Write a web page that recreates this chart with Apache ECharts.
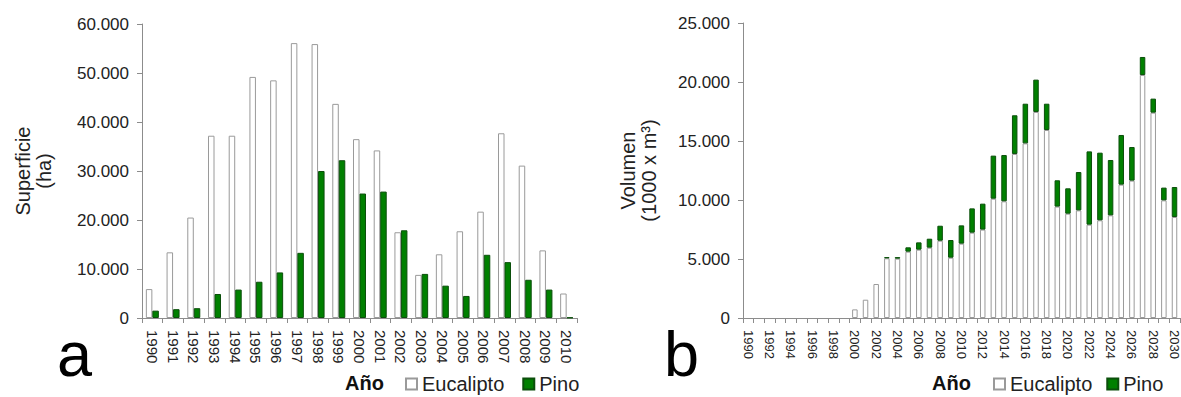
<!DOCTYPE html>
<html>
<head>
<meta charset="utf-8">
<script src="https://cdn.jsdelivr.net/npm/echarts@6/dist/echarts.min.js"></script>
<style>
  html, body { margin: 0; padding: 0; background: #fff; }
  #chart { width: 1181px; height: 397px; }
</style>
</head>
<body>
<div id="chart"></div>
<script>
// panel a: superficie plantada (ha)
var yearsA = ['1990', '1991', '1992', '1993', '1994', '1995', '1996', '1997', '1998', '1999', '2000',
  '2001', '2002', '2003', '2004', '2005', '2006', '2007', '2008', '2009', '2010'];
var eucaA = [5900, 13400, 20500, 37200, 37200, 49200, 48500, 56100, 55900, 43700, 36500,
  34200, 17500, 8800, 13000, 17700, 21700, 37700, 31100, 13800, 5000];
var pinoA = [1500, 1800, 2000, 4900, 5800, 7400, 9300, 13300, 30000, 32200, 25400,
  25800, 17900, 9000, 6600, 4500, 12900, 11400, 7800, 5800, 100];

// panel b: volumen (1000 x m3)
var yearsB = ['1990', '1991', '1992', '1993', '1994', '1995', '1996', '1997', '1998', '1999', '2000',
  '2001', '2002', '2003', '2004', '2005', '2006', '2007', '2008', '2009', '2010',
  '2011', '2012', '2013', '2014', '2015', '2016', '2017', '2018', '2019', '2020',
  '2021', '2022', '2023', '2024', '2025', '2026', '2027', '2028', '2029', '2030'];
var eucaB = [0, 0, 0, 0, 0, 0, 0, 0, 0, 0, 730,
  1550, 2880, 5060, 5030, 5620, 5790, 5960, 6550, 5110, 6300,
  7230, 7490, 10110, 9890, 13900, 14800, 17460, 15930, 9440, 8840,
  9120, 7910, 8280, 8700, 11300, 11640, 20590, 17400, 9970, 8560];
var pinoB = [0, 0, 0, 0, 0, 0, 0, 0, 0, 0, 0,
  0, 0, 100, 130, 370, 620, 760, 1270, 1500, 1550,
  2060, 2200, 3650, 3920, 3280, 3360, 2740, 2230, 2230, 2150,
  3250, 6210, 5730, 4690, 4210, 2850, 1530, 1190, 1080, 2540];

var FONT = "'Liberation Sans', Arial, sans-serif";
var TXT = '#222';
var AXIS = '#8c8c8c';
var GREEN = '#008000';

function miles(v) {
  return String(v).replace(/\B(?=(\d{3})+(?!\d))/g, '.');
}
// empty years get no bar at all (no outline on the baseline)
function noZero(arr) {
  return arr.map(function (v) { return v === 0 ? '-' : v; });
}

var eucaStyle = { color: '#fff', borderColor: '#9a9a9a', borderWidth: 1 };
var pinoStyle = { color: GREEN, borderColor: '#0b4f0b', borderWidth: 1 };

function xAx(idx, data, fontSize, labelInterval) {
  return {
    type: 'category', gridIndex: idx, data: data,
    axisLine: { lineStyle: { color: AXIS } },
    axisTick: { show: true, interval: 0, length: 5, lineStyle: { color: AXIS } },
    axisLabel: { rotate: -90, interval: labelInterval, margin: 12, color: TXT,
      fontFamily: FONT, fontSize: fontSize }
  };
}

function yAx(idx, max, step, name, gap) {
  return {
    type: 'value', gridIndex: idx, min: 0, max: max, interval: step,
    name: name, nameLocation: 'middle', nameRotate: 90, nameGap: gap,
    nameTextStyle: { color: TXT, fontFamily: FONT, fontSize: 20, lineHeight: 21 },
    axisLine: { show: true, lineStyle: { color: AXIS } },
    axisTick: { show: true, length: 5, lineStyle: { color: AXIS } },
    splitLine: { show: false },
    axisLabel: { color: TXT, fontFamily: FONT, fontSize: 17, margin: 13, formatter: miles }
  };
}

var legendText = { color: TXT, fontFamily: FONT, fontSize: 20 };

var chart = echarts.init(document.getElementById('chart'), null, { renderer: 'svg' });
chart.setOption({
  animation: false,
  backgroundColor: '#fff',
  grid: [
    { left: 142, right: 604, top: 24, bottom: 79 },
    { left: 743, right: 0, top: 23, bottom: 79 }
  ],
  xAxis: [xAx(0, yearsA, 15, 0), xAx(1, yearsB, 13, 1)],
  yAxis: [
    yAx(0, 60000, 10000, 'Superficie\n(ha)', 88),
    yAx(1, 25000, 5000, 'Volumen\n(1000 x m³)', 84)
  ],
  legend: [
    { left: 405, top: 374, padding: 0, itemWidth: 11, itemHeight: 11, itemGap: 18, icon: 'rect',
      textStyle: legendText, data: ['Eucalipto', 'Pino'] },
    { left: 993, top: 374, padding: 0, itemWidth: 11, itemHeight: 11, itemGap: 14, icon: 'rect',
      textStyle: legendText, data: ['Eucalipto', 'Pino'] }
  ],
  graphic: [
    { type: 'text', left: 345, top: 373, style: { text: 'Año', fill: '#111', font: 'bold 20px ' + FONT } },
    { type: 'text', left: 932, top: 373, style: { text: 'Año', fill: '#111', font: 'bold 20px ' + FONT } },
    { type: 'text', left: 57, top: 322, style: { text: 'a', fill: '#000', font: '63px ' + FONT } },
    { type: 'text', left: 664, top: 322, style: { text: 'b', fill: '#000', font: '63px ' + FONT } }
  ],
  series: [
    { name: 'Eucalipto', type: 'bar', xAxisIndex: 0, yAxisIndex: 0, data: eucaA,
      barWidth: 6.5, barGap: '0%', itemStyle: eucaStyle },
    { name: 'Pino', type: 'bar', xAxisIndex: 0, yAxisIndex: 0, data: pinoA,
      barWidth: 6.5, barGap: '0%', itemStyle: pinoStyle },
    { name: 'Eucalipto', type: 'bar', xAxisIndex: 1, yAxisIndex: 1, data: noZero(eucaB),
      stack: 'vol', barWidth: 5.5, itemStyle: eucaStyle },
    { name: 'Pino', type: 'bar', xAxisIndex: 1, yAxisIndex: 1, data: noZero(pinoB),
      stack: 'vol', barWidth: 5.5, itemStyle: pinoStyle }
  ]
});
</script>
</body>
</html>
